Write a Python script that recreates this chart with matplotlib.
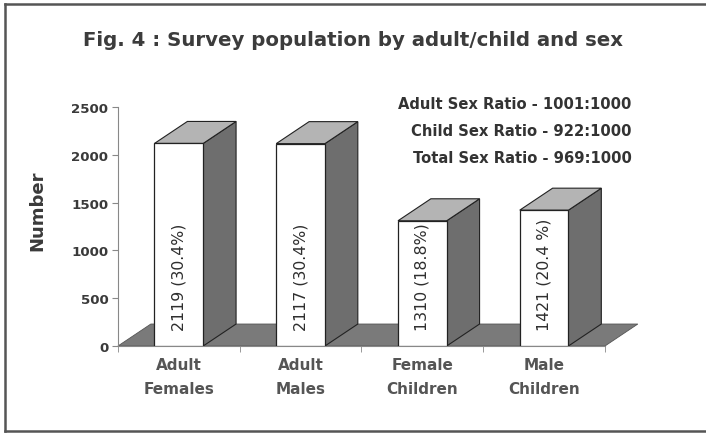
import matplotlib
matplotlib.use("Agg")
import matplotlib.pyplot as plt
from matplotlib.patches import Polygon
from matplotlib.lines import Line2D

categories = ["Adult\nFemales", "Adult\nMales", "Female\nChildren", "Male\nChildren"]
counts = [2119, 2117, 1310, 1421]
bar_labels = ["2119 (30.4%)", "2117 (30.4%)", "1310 (18.8%)", "1421 (20.4 %)"]
ratio_notes = ["Adult Sex Ratio - 1001:1000",
               "Child Sex Ratio - 922:1000",
               "Total Sex Ratio - 969:1000"]
yticks = [0, 500, 1000, 1500, 2000, 2500]

plt.rcParams["font.family"] = ["DejaVu Sans"]

fig = plt.figure(figsize=(7.06, 4.35), dpi=100)
ax = fig.add_axes([0.1671, 0.2023, 0.6898, 0.5494])

# depth of the fake 3d extrusion, in data units
dx, dy = 0.27, 230
width = 0.40
n = len(categories)

ax.set_xlim(-0.5, n - 0.5)
ax.set_ylim(0, 2500)

# floor
floor = Polygon([(-0.5, 0), (n - 0.5, 0), (n - 0.5 + dx, dy), (-0.5 + dx, dy)],
                closed=True, facecolor="#7a7a7a", edgecolor="#555555",
                linewidth=0.6, zorder=1, clip_on=False)
ax.add_patch(floor)

for i, h in enumerate(counts):
    left, right = i - width / 2, i + width / 2
    side = Polygon([(right, 0), (right + dx, dy), (right + dx, h + dy), (right, h)],
                   closed=True, facecolor="#6e6e6e", edgecolor="#222222",
                   linewidth=0.8, zorder=2, clip_on=False)
    top = Polygon([(left, h), (right, h), (right + dx, h + dy), (left + dx, h + dy)],
                  closed=True, facecolor="#b4b4b4", edgecolor="#222222",
                  linewidth=0.8, zorder=2, clip_on=False)
    ax.add_patch(side)
    ax.add_patch(top)

ax.bar(range(n), counts, width=width, color="white", edgecolor="#222222",
       linewidth=0.9, zorder=3)

for i, lab in enumerate(bar_labels):
    ax.text(i, 165, lab, rotation=90, ha="center", va="bottom",
            fontsize=11.3, color="#2e2e2e", zorder=4)

# axes styling
for s in ["top", "right"]:
    ax.spines[s].set_visible(False)
ax.spines["left"].set_color("#888888")
ax.spines["bottom"].set_color("#888888")
ax.spines["left"].set_linewidth(0.8)
ax.spines["bottom"].set_linewidth(0.8)

ax.set_yticks(yticks)
ax.set_yticklabels([str(t) for t in yticks], fontsize=9.6, fontweight="bold",
                   color="#3a3a3a")
ax.tick_params(axis="y", length=4, color="#888888", pad=3)

ax.set_xticks(range(n))
ax.set_xticklabels(categories, fontsize=11, fontweight="bold", color="#555555",
                   linespacing=1.7)
ax.tick_params(axis="x", which="major", length=0, pad=8)
ax.set_xticks([i - 0.5 for i in range(n + 1)], minor=True)
ax.tick_params(axis="x", which="minor", length=4, color="#888888")

fig.text(37 / 706, 1 - 211 / 435, "Number", rotation=90, ha="center", va="center",
         fontsize=13, fontweight="bold", color="#3a3a3a")

fig.text(0.5, 0.908, "Fig. 4 : Survey population by adult/child and sex",
         ha="center", va="center", fontsize=14.2, fontweight="bold", color="#3c3c3c")

for k, note in enumerate(ratio_notes):
    fig.text(0.895, 0.760 - k * 0.062, note, ha="right", va="center",
             fontsize=10.6, fontweight="bold", color="#333333")

# open frame: top, left, bottom
fx0, fx1 = 5 / 706, 1.0
fy0, fy1 = 1 - 432 / 435, 1 - 5 / 435
for xs, ys in [([fx0, fx1], [fy1, fy1]), ([fx0, fx0], [fy0, fy1]), ([fx0, fx1], [fy0, fy0])]:
    fig.lines.append(Line2D(xs, ys, transform=fig.transFigure,
                            color="#555555", linewidth=1.8))

fig.savefig("out.png", dpi=100)
